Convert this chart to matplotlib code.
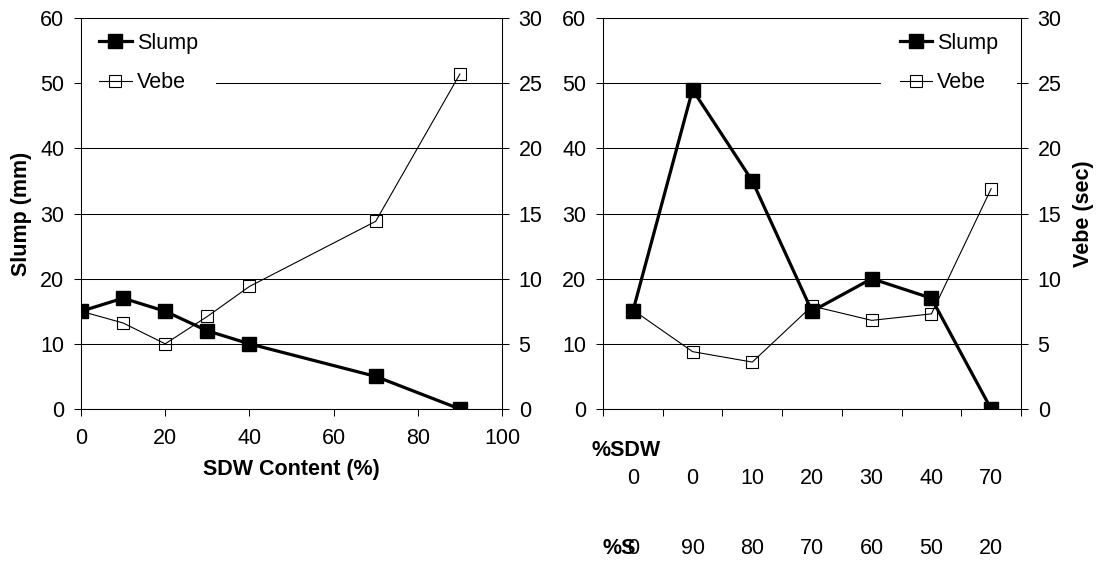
import matplotlib
matplotlib.use("Agg")
import matplotlib.pyplot as plt
from matplotlib import transforms

plt.rcParams["font.family"] = ["Liberation Sans", "DejaVu Sans"]
FS = 15.5

# Gráfico da esquerda: teor de SDW
sdw_content = [0, 10, 20, 30, 40, 70, 90]
slump_left = [15, 17, 15, 12, 10, 5, 0]
vebe_left = [7.5, 6.6, 5.0, 7.1, 9.4, 14.4, 25.7]

# Gráfico da direita: misturas (categorias)
mix_sdw = ["0", "0", "10", "20", "30", "40", "70"]
mix_s = ["0", "90", "80", "70", "60", "50", "20"]
slump_right = [15, 49, 35, 15, 20, 17, 0]
vebe_right = [7.6, 4.4, 3.6, 7.9, 6.8, 7.3, 16.9]

W, H = 1100, 561


def box(x0, x1, y_top, y_bot):
    """Converte pixels da imagem em fração da figura."""
    return [x0 / W, 1 - y_bot / H, (x1 - x0) / W, (y_bot - y_top) / H]


def style(ax, ax2):
    ax.set_ylim(0, 60)
    ax.set_yticks(range(0, 61, 10))
    ax2.set_ylim(0, 30)
    ax2.set_yticks(range(0, 31, 5))
    ax.yaxis.grid(True, color="black", lw=0.75)
    for a in (ax, ax2):
        a.tick_params(axis="y", direction="out", length=5, width=0.75,
                      pad=7, labelsize=FS)
        a.tick_params(axis="x", direction="out", length=5, width=0.75,
                      pad=9, labelsize=FS)
        for s in a.spines.values():
            s.set_linewidth(0.75)
    ax.spines["top"].set_visible(False)
    # as bordas ficam por cima da legenda (fundo branco)
    for s in ax2.spines.values():
        s.set_zorder(10)


def draw(ax, ax2, x, slump, vebe):
    l1, = ax.plot(x, slump, color="black", lw=2.3, marker="s", ms=9.5,
                  label="Slump")
    l2, = ax2.plot(x, vebe, color="black", lw=0.8, marker="s", ms=9,
                   mfc="none", mec="black", mew=0.8, label="Vebe")
    return [l1, l2]


def legend(ax2, handles, loc, anchor):
    ax2.legend(handles, ["Slump", "Vebe"], loc=loc, bbox_to_anchor=anchor,
               frameon=True, fancybox=False, edgecolor="none",
               facecolor="white", framealpha=1, fontsize=FS, borderpad=0.85,
               handlelength=1.5, handletextpad=0.25, labelspacing=0.85,
               borderaxespad=0)


fig = plt.figure(figsize=(W / 100, H / 100), dpi=100)

# (a) Slump e Vebe x teor de SDW
axL = fig.add_axes(box(81, 502, 18, 409))
axL2 = axL.twinx()
style(axL, axL2)
axL.set_xlim(0, 100)
axL.set_xticks(range(0, 101, 20))
hL = draw(axL, axL2, sdw_content, slump_left, vebe_left)
legend(axL2, hL, "center left", (0, 0.885))

# (b) Slump e Vebe por mistura
axR = fig.add_axes(box(603, 1021, 18, 409))
axR2 = axR.twinx()
style(axR, axR2)
axR.set_xlim(0, len(mix_sdw))
axR.set_xticks(range(len(mix_sdw) + 1))
axR.set_xticklabels([])
pos = [i + 0.5 for i in range(len(mix_sdw))]
hR = draw(axR, axR2, pos, slump_right, vebe_right)
legend(axR2, hR, "center right", (0.99, 0.885))

# rótulos dos eixos
fig.text(291.5 / W, 1 - 470 / H, "SDW Content (%)", ha="center", va="center",
         fontsize=FS, fontweight="bold")
fig.text(22 / W, 1 - 213.5 / H, "Slump (mm)", ha="center", va="center",
         rotation=90, fontsize=FS, fontweight="bold")
fig.text(1083 / W, 1 - 213.5 / H, "Vebe (sec)", ha="center", va="center",
         rotation=90, fontsize=FS, fontweight="bold")

# tabela de composição sob o gráfico da direita
tr = transforms.blended_transform_factory(axR.transData, fig.transFigure)
axR.text(-0.19, 1 - 450 / H, "%SDW", transform=tr, ha="left", va="center",
         fontsize=FS, fontweight="bold")
axR.text(-0.01, 1 - 548 / H, "%S", transform=tr, ha="left", va="center",
         fontsize=FS, fontweight="bold")
for p, a, b in zip(pos, mix_sdw, mix_s):
    axR.text(p, 1 - 479 / H, a, transform=tr, ha="center", va="center",
             fontsize=FS)
    axR.text(p, 1 - 548 / H, b, transform=tr, ha="center", va="center",
             fontsize=FS)

fig.savefig("out.png", dpi=100)
